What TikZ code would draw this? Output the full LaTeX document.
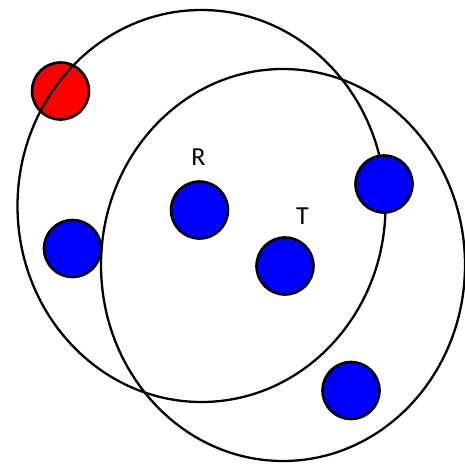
\documentclass[tikz,border=0pt]{standalone}
\usepackage{fontspec}
\setmainfont{Carlito}
\begin{document}
\begin{tikzpicture}[x=1pt,y=-1pt,
  dot/.style={circle,draw=black,line width=2.6pt,minimum size=57pt,inner sep=0pt},
  bluedot/.style={dot,fill={rgb,255:red,0;green,0;blue,255}},
  reddot/.style={dot,fill={rgb,255:red,255;green,0;blue,0}},
  ring/.style={draw=black,line width=2.3pt},
  lbl/.style={font=\fontsize{26}{30}\selectfont,inner sep=0pt}]
\useasboundingbox[fill=white] (0,0) rectangle (465,463);
\node[reddot] (red) at (60.5,91) {};
\draw[ring] (201.5,206) ellipse [x radius=184, y radius=196];
\draw[ring] (283,265) ellipse [x radius=182, y radius=196];
\node[bluedot] (r) at (199.5,210) {};
\node[bluedot] (t) at (285,266) {};
\node[bluedot] (left) at (72.5,248.5) {};
\node[bluedot] (right) at (384,184) {};
\node[bluedot] (bottom) at (351,390.5) {};
\node[lbl] (rl) at (198.5,157) {R};
\node[lbl] (tl) at (302.5,216.5) {T};
\end{tikzpicture}
\end{document}
